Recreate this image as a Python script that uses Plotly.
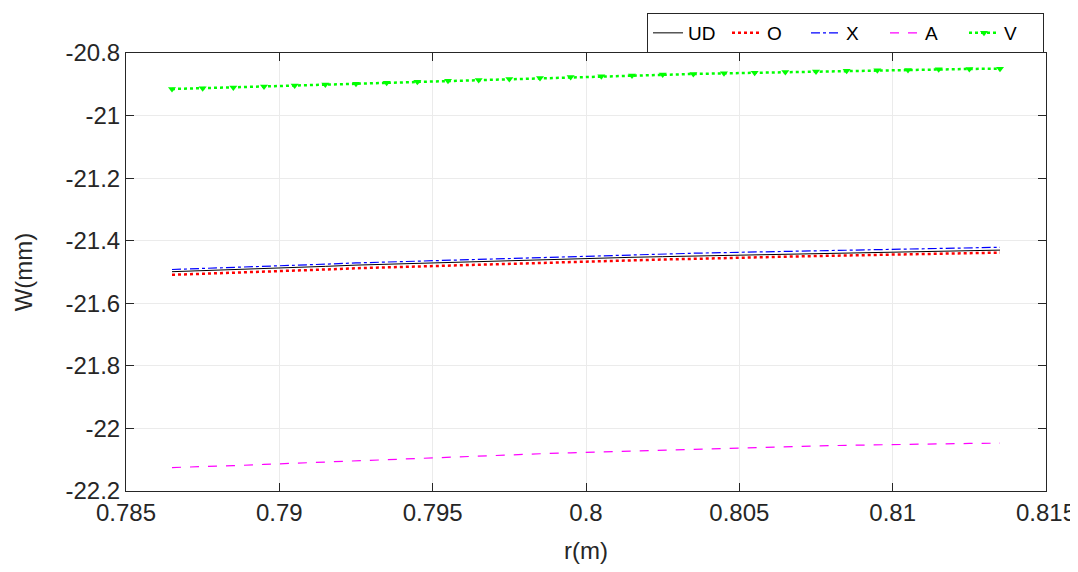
import plotly.graph_objects as go

r = [0.7865, 0.7875, 0.7885, 0.7895, 0.7905, 0.7915, 0.7925, 0.7935, 0.7945, 0.7955,
     0.7965, 0.7975, 0.7985, 0.7995, 0.8005, 0.8015, 0.8025, 0.8035, 0.8045, 0.8055,
     0.8065, 0.8075, 0.8085, 0.8095, 0.8105, 0.8115, 0.8125, 0.8135]

UD = [-21.499, -21.496, -21.492, -21.489, -21.485, -21.482, -21.478, -21.475, -21.472, -21.469,
      -21.466, -21.463, -21.460, -21.458, -21.455, -21.453, -21.451, -21.449, -21.447, -21.445,
      -21.443, -21.441, -21.439, -21.437, -21.435, -21.433, -21.432, -21.430]

O = [-21.509, -21.506, -21.502, -21.499, -21.495, -21.492, -21.488, -21.485, -21.482, -21.479,
     -21.476, -21.473, -21.470, -21.467, -21.464, -21.462, -21.460, -21.458, -21.455, -21.453,
     -21.451, -21.449, -21.447, -21.445, -21.443, -21.441, -21.439, -21.438]

X = [-21.492, -21.489, -21.485, -21.482, -21.478, -21.475, -21.471, -21.468, -21.465, -21.462,
     -21.459, -21.456, -21.453, -21.450, -21.447, -21.445, -21.442, -21.440, -21.438, -21.436,
     -21.434, -21.432, -21.430, -21.428, -21.426, -21.424, -21.423, -21.421]

A = [-22.125, -22.123, -22.119, -22.115, -22.111, -22.107, -22.103, -22.099, -22.095, -22.091,
     -22.088, -22.084, -22.081, -22.078, -22.075, -22.072, -22.069, -22.066, -22.063, -22.061,
     -22.059, -22.056, -22.054, -22.052, -22.050, -22.049, -22.048, -22.047]

V = [-20.915, -20.913, -20.910, -20.907, -20.904, -20.901, -20.898, -20.895, -20.892, -20.889,
     -20.886, -20.883, -20.880, -20.877, -20.874, -20.872, -20.869, -20.867, -20.865, -20.863,
     -20.861, -20.859, -20.857, -20.855, -20.854, -20.852, -20.851, -20.850]

x_ticks = [0.785, 0.79, 0.795, 0.8, 0.805, 0.81, 0.815]
x_tick_text = ["0.785", "0.79", "0.795", "0.8", "0.805", "0.81", "0.815"]
y_ticks = [-22.2, -22, -21.8, -21.6, -21.4, -21.2, -21, -20.8]
y_tick_text = ["-22.2", "-22", "-21.8", "-21.6", "-21.4", "-21.2", "-21", "-20.8"]

FONT = "Liberation Sans, Arial, sans-serif"
W, H = 1070, 556  # page body adds an 8px margin at the top-left of the figure

fig = go.Figure()
fig.add_trace(go.Scatter(x=r, y=UD, name="UD", mode="lines",
                         line=dict(color="black", width=1, dash="solid")))
fig.add_trace(go.Scatter(x=r, y=O, name="O", mode="lines",
                         line=dict(color="#ff0000", width=2.5, dash="dot")))
fig.add_trace(go.Scatter(x=r, y=X, name="X", mode="lines",
                         line=dict(color="#0000ff", width=1.2, dash="dashdot")))
fig.add_trace(go.Scatter(x=r, y=A, name="A", mode="lines",
                         line=dict(color="#ff00ff", width=1.2, dash="dash")))
fig.add_trace(go.Scatter(x=r, y=V, name="V", mode="lines+markers",
                         line=dict(color="#00ff00", width=2.5, dash="dot"),
                         marker=dict(symbol="triangle-down", size=7, color="#00ff00")))

axis_common = dict(
    showline=True, linecolor="#262626", linewidth=1, mirror="ticks",
    ticks="inside", ticklen=8, tickcolor="#262626",
    showgrid=True, gridcolor="#ebebeb", gridwidth=1, zeroline=False,
    automargin=False, ticklabeloverflow="allow",
    tickfont=dict(family=FONT, size=24, color="#262626"),
)

fig.update_layout(
    width=W, height=H,
    margin=dict(l=118, r=32, t=45, b=73, autoexpand=False),
    paper_bgcolor="white", plot_bgcolor="white",
    font=dict(family=FONT, size=24, color="#262626"),
    xaxis=dict(range=[0.785, 0.815], tickvals=x_ticks, ticktext=x_tick_text,
               title=dict(text="r(m)", standoff=20, font=dict(size=24, family=FONT)),
               **axis_common),
    yaxis=dict(range=[-22.2, -20.8], tickvals=y_ticks, ticktext=y_tick_text,
               title=dict(text="W(mm)", standoff=26, font=dict(size=24, family=FONT)),
               **axis_common),
    legend=dict(orientation="h", xref="container", x=1036 / W, xanchor="right",
                yref="container", y=1 - 5 / H, yanchor="top",
                bordercolor="#262626", borderwidth=1, bgcolor="white",
                font=dict(size=19, family=FONT, color="black"),
                entrywidth=34, itemwidth=30, tracegroupgap=0),
    showlegend=True,
)

fig.write_html("out.html")
